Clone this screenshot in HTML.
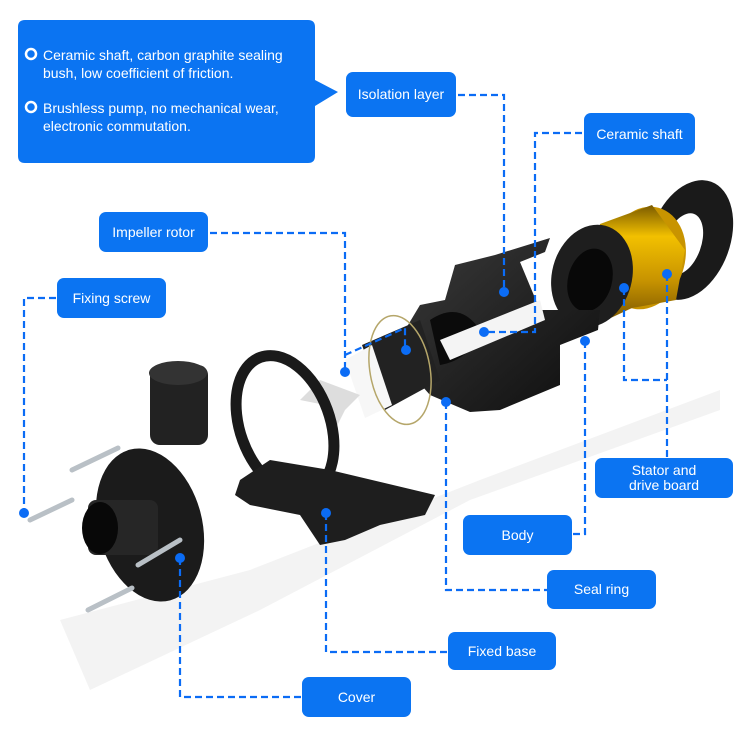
<!DOCTYPE html>
<html><head><meta charset="utf-8"><style>
html,body{margin:0;padding:0;background:#fff;}
body{width:750px;height:738px;position:relative;overflow:hidden;font-family:"Liberation Sans",sans-serif;}
.b{position:absolute;background:#0b74f2;color:#fff;border-radius:7px;font-size:14px;display:flex;align-items:center;justify-content:center;text-align:center;line-height:15px;}
svg{position:absolute;left:0;top:0;}
</style></head><body>
<svg width="750" height="738" viewBox="0 0 750 738">
<defs>
<linearGradient id="gold" x1="0" y1="0" x2="0" y2="1"><stop offset="0" stop-color="#7a5a00"/><stop offset="0.25" stop-color="#f2c000"/><stop offset="0.6" stop-color="#c89400"/><stop offset="1" stop-color="#6b4a00"/></linearGradient>
<linearGradient id="blk" x1="0" y1="0" x2="1" y2="1"><stop offset="0" stop-color="#3a3a3a"/><stop offset="1" stop-color="#0d0d0d"/></linearGradient>
</defs>
<!-- shadows -->
<polygon points="60,620 250,570 480,480 720,390 720,410 470,500 260,610 90,690" fill="#f3f3f3"/>
<!-- rear flange -->
<ellipse cx="690" cy="240" rx="40" ry="62" transform="rotate(20 690 240)" fill="#1a1a1a"/>
<ellipse cx="683" cy="244" rx="18" ry="32" transform="rotate(20 683 244)" fill="#fff"/>
<!-- gold stator -->
<ellipse cx="645" cy="258" rx="40" ry="52" transform="rotate(15 645 258)" fill="#c89400"/>
<polygon points="600,224 652,205 685,250 676,300 632,308 585,330" fill="url(#gold)"/>
<ellipse cx="592" cy="276" rx="40" ry="52" transform="rotate(15 592 276)" fill="#1e1e1e"/>
<ellipse cx="590" cy="280" rx="22" ry="32" transform="rotate(15 590 280)" fill="#080808"/>
<!-- body -->
<polygon points="455,265 495,255 550,238 545,252 520,262 540,310 600,310 598,330 560,345 560,385 500,410 470,412 430,395 408,370 405,330 420,305 445,300" fill="url(#blk)"/>
<path d="M430,320 Q460,300 480,330 Q470,360 440,365 Z" fill="#0b0b0b"/>
<polygon points="440,340 540,300 545,320 450,360" fill="#f4f4f4"/>
<!-- shaft tube -->
<polygon points="362,345 420,320 440,380 385,410" fill="#222"/>
<polygon points="345,360 372,345 392,405 365,418" fill="#f7f7f7"/>
<!-- seal ring -->
<ellipse cx="400" cy="370" rx="30" ry="55" transform="rotate(-10 400 370)" fill="none" stroke="#b5a66a" stroke-width="1.5"/>
<!-- impeller -->
<polygon points="320,380 360,395 345,410 330,440 325,405 300,400" fill="#ddd"/>
<!-- frame ring -->
<ellipse cx="285" cy="425" rx="45" ry="72" transform="rotate(-20 285 425)" fill="none" stroke="#1a1a1a" stroke-width="11"/>
<polygon points="240,480 270,460 330,470 435,495 425,515 380,525 345,540 320,545 300,515 250,505 235,495" fill="#1e1e1e"/>
<!-- cover -->
<rect x="150" y="365" width="58" height="80" rx="10" fill="#222"/>
<ellipse cx="178" cy="373" rx="29" ry="12" fill="#333"/>
<ellipse cx="150" cy="525" rx="52" ry="78" transform="rotate(-15 150 525)" fill="#1b1b1b"/>
<rect x="88" y="500" width="70" height="55" rx="8" fill="#262626"/>
<ellipse cx="100" cy="528" rx="18" ry="26" fill="#080808"/>
<!-- screws -->
<g stroke="#b9c0c6" stroke-width="5" stroke-linecap="round">
<line x1="72" y1="470" x2="118" y2="448"/><line x1="30" y1="520" x2="72" y2="500"/><line x1="138" y1="565" x2="180" y2="540"/><line x1="88" y1="610" x2="132" y2="588"/>
</g>
<!-- connectors -->
<g fill="none" stroke="#0b6cf5" stroke-width="2.2" stroke-dasharray="7,4">
<polyline points="458,95 504,95 504,292"/>
<polyline points="582,133 535,133 535,332 484,332"/>
<polyline points="210,233 345,233 345,372"/>
<polyline points="345,355 405,328 405,350"/>
<polyline points="56,298 24,298 24,513"/>
<polyline points="624,288 624,380 667,380"/>
<polyline points="667,274 667,458"/>
<polyline points="585,341 585,534 572,534"/>
<polyline points="446,402 446,590 547,590"/>
<polyline points="326,513 326,652 448,652"/>
<polyline points="180,558 180,697 302,697"/>
</g>
<g fill="#0b6cf5">
<circle cx="504" cy="292" r="5"/><circle cx="484" cy="332" r="5"/><circle cx="406" cy="350" r="5"/><circle cx="345" cy="372" r="5"/>
<circle cx="446" cy="402" r="5"/><circle cx="585" cy="341" r="5"/><circle cx="624" cy="288" r="5"/><circle cx="667" cy="274" r="5"/>
<circle cx="24" cy="513" r="5"/><circle cx="180" cy="558" r="5"/><circle cx="326" cy="513" r="5"/>
</g>
<!-- main callout -->
<path d="M25,20 H308 Q315,20 315,27 V80 L338,92 L315,106 V156 Q315,163 308,163 H25 Q18,163 18,156 V27 Q18,20 25,20 Z" fill="#0b74f2"/>
<circle cx="31" cy="54" r="5" fill="none" stroke="#fff" stroke-width="2.5"/>
<circle cx="31" cy="107" r="5" fill="none" stroke="#fff" stroke-width="2.5"/>
<text fill="#fff" font-family="Liberation Sans, sans-serif" font-size="14">
<tspan x="43" y="60">Ceramic shaft, carbon graphite sealing</tspan>
<tspan x="43" y="78">bush, low coefficient of friction.</tspan>
<tspan x="43" y="113">Brushless pump, no mechanical wear,</tspan>
<tspan x="43" y="131">electronic commutation.</tspan>
</text>
</svg>
<div class="b" style="left:346px;top:72px;width:110px;height:45px;">Isolation layer</div>
<div class="b" style="left:584px;top:113px;width:111px;height:42px;">Ceramic shaft</div>
<div class="b" style="left:99px;top:212px;width:109px;height:40px;">Impeller rotor</div>
<div class="b" style="left:57px;top:278px;width:109px;height:40px;">Fixing screw</div>
<div class="b" style="left:595px;top:458px;width:138px;height:40px;">Stator and<br>drive board</div>
<div class="b" style="left:463px;top:515px;width:109px;height:40px;">Body</div>
<div class="b" style="left:547px;top:570px;width:109px;height:39px;">Seal ring</div>
<div class="b" style="left:448px;top:632px;width:108px;height:38px;">Fixed base</div>
<div class="b" style="left:302px;top:677px;width:109px;height:40px;">Cover</div>
</body></html>
